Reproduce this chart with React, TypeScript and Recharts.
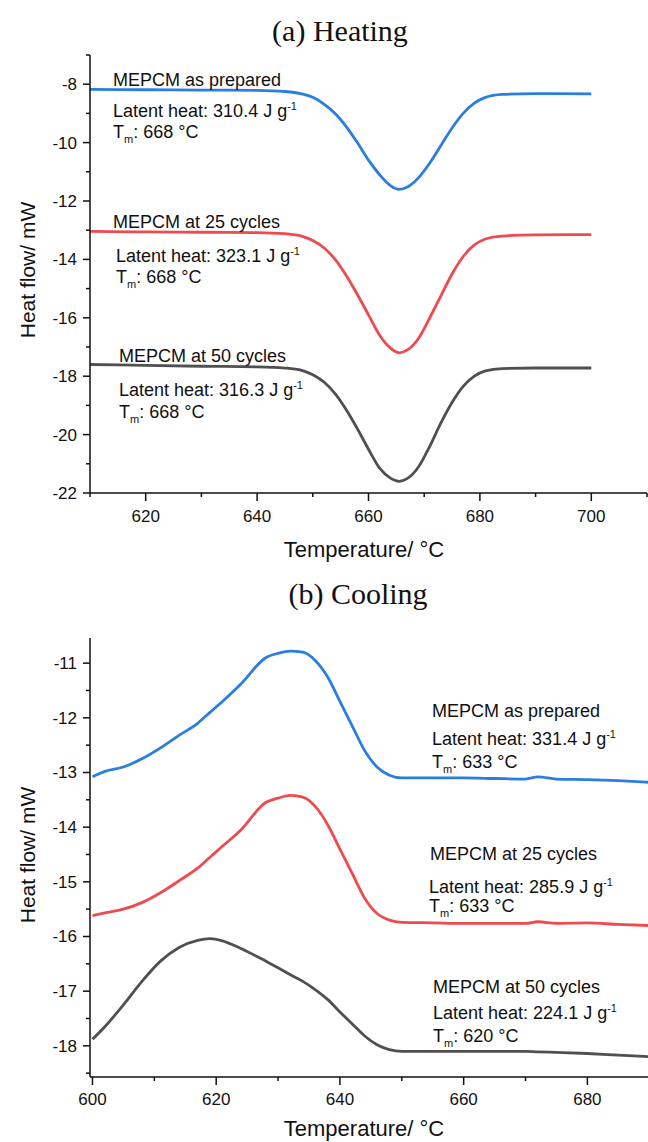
import { LineChart, Line, XAxis, YAxis } from "recharts";

// (a) heating, temperature in °C, heat flow in mW
const heatTemp = [610, 620, 630, 640, 645, 648, 650, 652, 654, 656, 658, 660, 662, 664, 665.5, 667, 669, 671, 673, 675, 677, 679, 681, 684, 690, 700];
const heatAsPrepared = [-8.18, -8.19, -8.2, -8.21, -8.25, -8.33, -8.45, -8.68, -9.0, -9.45, -10.0, -10.6, -11.1, -11.48, -11.6, -11.52, -11.2, -10.7, -10.1, -9.5, -9.0, -8.65, -8.45, -8.35, -8.32, -8.33];
const heat25 = [-13.04, -13.06, -13.07, -13.08, -13.12, -13.2, -13.35, -13.6, -14.0, -14.55, -15.2, -15.9, -16.6, -17.05, -17.2, -17.1, -16.7, -16.0, -15.25, -14.5, -13.9, -13.5, -13.3, -13.2, -13.16, -13.15];
const heat50 = [-17.6, -17.63, -17.66, -17.68, -17.72, -17.8, -17.95, -18.2, -18.6, -19.15, -19.8, -20.5, -21.15, -21.5, -21.6, -21.5, -21.1, -20.4, -19.6, -18.9, -18.35, -18.0, -17.82, -17.74, -17.72, -17.72];

// (b) cooling
const coolTemp = [600, 602, 605, 608, 611, 614, 617, 619, 621, 624, 628, 630, 632, 634, 636, 638, 640, 642, 644, 646, 648, 650, 655, 660, 665, 670, 672, 675, 680, 685, 690];
const coolAsPrepared = [-13.08, -12.98, -12.9, -12.75, -12.55, -12.32, -12.1, -11.9, -11.7, -11.38, -10.9, -10.82, -10.78, -10.8, -10.95, -11.25, -11.7, -12.15, -12.6, -12.9, -13.05, -13.1, -13.1, -13.1, -13.11, -13.12, -13.08, -13.12, -13.13, -13.15, -13.18];
const cool25 = [-15.62, -15.57, -15.5, -15.38, -15.2, -14.98, -14.75, -14.55, -14.35, -14.05, -13.55, -13.47, -13.42, -13.45, -13.62, -13.95, -14.4, -14.85, -15.3, -15.58, -15.7, -15.74, -15.75, -15.76, -15.76, -15.76, -15.73, -15.76, -15.75, -15.78, -15.8];
const cool50 = [-17.88, -17.65, -17.25, -16.82, -16.45, -16.2, -16.07, -16.04, -16.08, -16.22, -16.45, -16.57, -16.7, -16.82, -16.97, -17.15, -17.38, -17.6, -17.82, -17.98, -18.07, -18.1, -18.1, -18.1, -18.1, -18.1, -18.11, -18.12, -18.14, -18.17, -18.2];

const heatXTicks = [610, 620, 630, 640, 650, 660, 670, 680, 690, 700, 710];
const heatYTicks = [-22, -21, -20, -19, -18, -17, -16, -15, -14, -13, -12, -11, -10, -9, -8, -7];
const coolXTicks = [600, 610, 620, 630, 640, 650, 660, 670, 680, 690];
const coolYTicks = [-18.5, -18, -17.5, -17, -16.5, -16, -15.5, -15, -14.5, -14, -13.5, -13, -12.5, -12, -11.5, -11];

const sampleNames = ["MEPCM as prepared", "MEPCM at 25 cycles", "MEPCM at 50 cycles"];
const heatLatent = ["310.4", "323.1", "316.3"];
const heatTm = ["668", "668", "668"];
const coolLatent = ["331.4", "285.9", "224.1"];
const coolTm = ["633", "633", "620"];

const BLUE = "#2a7de1";
const RED = "#ef4a50";
const GREY = "#505050";
const SANS = "'Liberation Sans', Arial, sans-serif";
const SERIF = "'Liberation Serif', 'Times New Roman', serif";

const heatRows = heatTemp.map((t, i) => ({ t, a: heatAsPrepared[i], b: heat25[i], c: heat50[i] }));
const coolRows = coolTemp.map((t, i) => ({ t, a: coolAsPrepared[i], b: cool25[i], c: cool50[i] }));

const makeXTick = (labelDy: number) => (props: any) => {
  const { x, y, payload } = props;
  const major = payload.value % 20 === 0;
  return (
    <g>
      <line x1={x} x2={x} y1={y} y2={y + (major ? 8 : 4)} stroke="#111" strokeWidth={1.5} />
      {major && (
        <text x={x} y={y + labelDy} textAnchor="middle" fontSize={17} fontFamily={SANS} fill="#111">
          {payload.value}
        </text>
      )}
    </g>
  );
};

const makeYTick = (isMajor: (v: number) => boolean) => (props: any) => {
  const { x, y, payload } = props;
  const major = isMajor(payload.value);
  return (
    <g>
      <line x1={x} x2={x - (major ? 7 : 4)} y1={y} y2={y} stroke="#111" strokeWidth={1.5} />
      {major && (
        <text x={x - 13} y={y + 6} textAnchor="end" fontSize={17} fontFamily={SANS} fill="#111">
          {payload.value}
        </text>
      )}
    </g>
  );
};

function Latent({ x, y, value }: { x: number; y: number; value: string }) {
  return (
    <text x={x} y={y} fontSize={18} fontFamily={SANS} fill="#111">
      Latent heat: {value} J g<tspan dy={-7} fontSize={11}>-1</tspan>
    </text>
  );
}

function Tm({ x, y, value }: { x: number; y: number; value: string }) {
  return (
    <text x={x} y={y} fontSize={18} fontFamily={SANS} fill="#111">
      T<tspan dy={5} fontSize={11}>m</tspan>
      <tspan dy={-5}>: {value} °C</tspan>
    </text>
  );
}

function Note({ x, y, children }: { x: number; y: number; children: any }) {
  return (
    <text x={x} y={y} fontSize={18} fontFamily={SANS} fill="#111">
      {children}
    </text>
  );
}

const axisStroke = { stroke: "#111", strokeWidth: 1.5 };

export default function App() {
  return (
    <div style={{ position: "absolute", left: 0, top: 0, width: 648, height: 1142, background: "#fff" }}>
      <div style={{ position: "absolute", left: 0, top: 0 }}>
        <LineChart width={648} height={580} data={heatRows} margin={{ top: 55, right: 1, bottom: 0, left: 0 }}>
          <XAxis
            dataKey="t"
            type="number"
            domain={[610, 710]}
            ticks={heatXTicks}
            interval={0}
            height={87}
            tickSize={0}
            tickMargin={0}
            tickLine={false}
            axisLine={axisStroke}
            tick={makeXTick(29)}
            allowDataOverflow
          />
          <YAxis
            type="number"
            domain={[-22, -7]}
            ticks={heatYTicks}
            interval={0}
            width={90}
            tickSize={0}
            tickMargin={0}
            tickLine={false}
            axisLine={axisStroke}
            tick={makeYTick((v) => v % 2 === 0)}
            allowDataOverflow
          />
          <Line type="monotone" dataKey="a" stroke={BLUE} strokeWidth={2.8} dot={false} isAnimationActive={false} />
          <Line type="monotone" dataKey="b" stroke={RED} strokeWidth={2.8} dot={false} isAnimationActive={false} />
          <Line type="monotone" dataKey="c" stroke={GREY} strokeWidth={2.8} dot={false} isAnimationActive={false} />
        </LineChart>
      </div>
      <div style={{ position: "absolute", left: 0, top: 580 }}>
        <LineChart width={648} height={562} data={coolRows} margin={{ top: 58, right: 0, bottom: 0, left: 0 }}>
          <XAxis
            dataKey="t"
            type="number"
            domain={[599.6, 689.8]}
            ticks={coolXTicks}
            interval={0}
            height={65}
            tickSize={0}
            tickMargin={0}
            tickLine={false}
            axisLine={axisStroke}
            tick={makeXTick(28)}
            allowDataOverflow
          />
          <YAxis
            type="number"
            domain={[-18.57, -10.54]}
            ticks={coolYTicks}
            interval={0}
            width={90}
            tickSize={0}
            tickMargin={0}
            tickLine={false}
            axisLine={axisStroke}
            tick={makeYTick((v) => Number.isInteger(v))}
            allowDataOverflow
          />
          <Line type="monotone" dataKey="a" stroke={BLUE} strokeWidth={2.8} dot={false} isAnimationActive={false} />
          <Line type="monotone" dataKey="b" stroke={RED} strokeWidth={2.8} dot={false} isAnimationActive={false} />
          <Line type="monotone" dataKey="c" stroke={GREY} strokeWidth={2.8} dot={false} isAnimationActive={false} />
        </LineChart>
      </div>
      <svg width={648} height={1142} style={{ position: "absolute", left: 0, top: 0, pointerEvents: "none" }}>
        <text x={340} y={41} textAnchor="middle" fontSize={30} fontFamily={SERIF} fill="#111">(a) Heating</text>
        <text x={358} y={604} textAnchor="middle" fontSize={30} fontFamily={SERIF} fill="#111">(b) Cooling</text>

        <text x={364} y={557} textAnchor="middle" fontSize={22} fontFamily={SANS} fill="#111">Temperature/ °C</text>
        <text x={364} y={1136} textAnchor="middle" fontSize={22} fontFamily={SANS} fill="#111">Temperature/ °C</text>
        <text transform="translate(35,270) rotate(-90)" textAnchor="middle" fontSize={21} fontFamily={SANS} fill="#111">Heat flow/ mW</text>
        <text transform="translate(35,855) rotate(-90)" textAnchor="middle" fontSize={21} fontFamily={SANS} fill="#111">Heat flow/ mW</text>

        <Note x={113} y={86}>{sampleNames[0]}</Note>
        <Latent x={113} y={117} value={heatLatent[0]} />
        <Tm x={113} y={138} value={heatTm[0]} />
        <Note x={113} y={228}>{sampleNames[1]}</Note>
        <Latent x={116} y={262} value={heatLatent[1]} />
        <Tm x={116} y={283} value={heatTm[1]} />
        <Note x={119} y={362}>{sampleNames[2]}</Note>
        <Latent x={119} y={396} value={heatLatent[2]} />
        <Tm x={119} y={418} value={heatTm[2]} />

        <Note x={432} y={717}>{sampleNames[0]}</Note>
        <Latent x={432} y={745} value={coolLatent[0]} />
        <Tm x={432} y={768} value={coolTm[0]} />
        <Note x={430} y={860}>{sampleNames[1]}</Note>
        <Latent x={429} y={893} value={coolLatent[1]} />
        <Tm x={429} y={912} value={coolTm[1]} />
        <Note x={433} y={993}>{sampleNames[2]}</Note>
        <Latent x={433} y={1019} value={coolLatent[2]} />
        <Tm x={433} y={1042} value={coolTm[2]} />
      </svg>
    </div>
  );
}
